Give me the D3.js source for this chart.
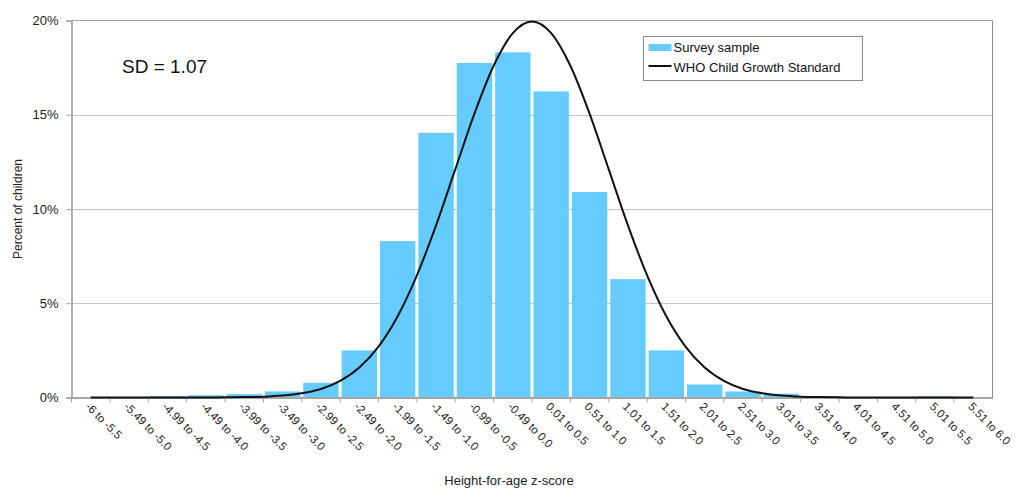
<!DOCTYPE html>
<html>
<head>
<meta charset="utf-8">
<script src="https://cdn.jsdelivr.net/npm/d3@7"></script>
<style>
  body { margin: 0; background: #fff; }
  svg { display: block; font-family: "Liberation Sans", Arial, sans-serif; }
</style>
</head>
<body>
<svg id="chart" width="1016" height="488"></svg>
<script>
const width = 1016;
const height = 488;

// z-score bins (categories)
const categories = [
  "-6 to -5.5", "-5.49 to -5.0", "-4.99 to -4.5", "-4.49 to -4.0", "-3.99 to -3.5",
  "-3.49 to -3.0", "-2.99 to -2.5", "-2.49 to -2.0", "-1.99 to -1.5", "-1.49 to -1.0",
  "-0.99 to -0.5", "-0.49 to 0.0", "0.01 to 0.5", "0.51 to 1.0", "1.01 to 1.5",
  "1.51 to 2.0", "2.01 to 2.5", "2.51 to 3.0", "3.01 to 3.5", "3.51 to 4.0",
  "4.01 to 4.5", "4.51 to 5.0", "5.01 to 5.5", "5.51 to 6.0"
];

// survey sample, percent of children per bin
const surveyPct = [
  0.02, 0, 0.07, 0.12, 0.18, 0.32, 0.78, 2.5, 8.3, 14.04, 17.75, 18.31,
  16.24, 10.9, 6.28, 2.5, 0.69, 0.32, 0.2, 0.05, 0, 0, 0.05, 0
];

// WHO standard curve at quarter z steps
const whoZ = [
  -5.75, -5.5, -5.25, -5, -4.75, -4.5, -4.25, -4, -3.75, -3.5, -3.25, -3,
  -2.75, -2.5, -2.25, -2, -1.75, -1.5, -1.25, -1, -0.75, -0.5, -0.25, 0,
  0.25, 0.5, 0.75, 1, 1.25, 1.5, 1.75, 2, 2.25, 2.5, 2.75, 3,
  3.25, 3.5, 3.75, 4, 4.25, 4.5, 4.75, 5, 5.25, 5.5, 5.75
];
const whoPct = [
  0, 0, 0, 0, 0, 0, 0, 0.01, 0.02, 0.04, 0.1, 0.22,
  0.45, 0.88, 1.59, 2.7, 4.31, 6.48, 9.13, 12.1, 15.06, 17.6, 19.33, 19.95,
  19.33, 17.6, 15.06, 12.1, 9.13, 6.48, 4.31, 2.7, 1.59, 0.88, 0.45, 0.22,
  0.1, 0.04, 0.02, 0.01, 0, 0, 0, 0, 0, 0, 0
];

const yTicks = [0, 5, 10, 15, 20];

const margin = { top: 20.5, right: 23.5, bottom: 90.5, left: 71.5 };
const x0 = margin.left, x1 = width - margin.right;
const yBottom = height - margin.bottom, yTop = margin.top;

const svg = d3.select("#chart");
svg.append("rect").attr("width", width).attr("height", height).attr("fill", "#fff");

const x = d3.scaleBand().domain(categories).range([x0, x1]).padding(0);
const xz = d3.scaleLinear().domain([-6, 6]).range([x0, x1]);
const y = d3.scaleLinear().domain([0, 20]).range([yBottom, yTop]);

// gridlines
svg.append("g")
  .selectAll("line")
  .data(yTicks.filter(d => d > 0 && d < 20))
  .join("line")
  .attr("x1", x0).attr("x2", x1)
  .attr("y1", d => Math.round(y(d)) + 0.5).attr("y2", d => Math.round(y(d)) + 0.5)
  .attr("stroke", "#8a8a8a")
  .attr("stroke-dasharray", "1,1");

// frame (top and right)
svg.append("line").attr("x1", x0).attr("x2", x1).attr("y1", yTop).attr("y2", yTop)
  .attr("stroke", "#a6a6a6");
svg.append("line").attr("x1", x1).attr("x2", x1).attr("y1", yTop).attr("y2", yBottom)
  .attr("stroke", "#8a8a8a");

// bars
svg.append("g")
  .selectAll("rect")
  .data(surveyPct)
  .join("rect")
  .attr("x", (d, i) => x(categories[i]) + 1.5)
  .attr("width", x.bandwidth() - 3)
  .attr("y", d => y(d))
  .attr("height", d => yBottom - y(d))
  .attr("fill", "#66ccff");

// y axis
const yAxis = svg.append("g")
  .attr("transform", `translate(${x0},0)`)
  .call(d3.axisLeft(y).tickValues(yTicks).tickFormat(d => d + "%").tickSize(5).tickPadding(8));
yAxis.select(".domain").attr("stroke", "#b0b0b0").attr("stroke-width", 2);
yAxis.selectAll(".tick line").attr("stroke", "#a6a6a6");
yAxis.selectAll(".tick text").attr("font-size", 13).attr("fill", "#222")
  .attr("font-family", "Liberation Sans, Arial, sans-serif");

// x axis
const xAxis = svg.append("g")
  .attr("transform", `translate(0,${yBottom})`)
  .call(d3.axisBottom(x).tickSize(0).tickFormat(""));
xAxis.select(".domain").attr("stroke", "#a6a6a6").attr("stroke-width", 2);
xAxis.selectAll(".tick").remove();

svg.append("g")
  .selectAll("line")
  .data(categories)
  .join("line")
  .attr("x1", d => x(d)).attr("x2", d => x(d))
  .attr("y1", yBottom).attr("y2", yBottom + 5)
  .attr("stroke", "#a6a6a6");

svg.append("g")
  .selectAll("text")
  .data(categories)
  .join("text")
  .attr("transform", d => `translate(${x(d) + x.bandwidth() / 2 - 3},${yBottom + 7}) rotate(45)`)
  .attr("font-size", 11.5)
  .attr("fill", "#222")
  .attr("dy", "0.35em")
  .text(d => d);

// WHO curve
const line = d3.line()
  .x((d, i) => xz(whoZ[i]))
  .y(d => y(d))
  .curve(d3.curveMonotoneX);
svg.append("path")
  .datum(whoPct)
  .attr("d", line)
  .attr("fill", "none")
  .attr("stroke", "#111")
  .attr("stroke-width", 2);

// axis titles
svg.append("text")
  .attr("transform", `translate(22,${(yTop + yBottom) / 2}) rotate(-90)`)
  .attr("text-anchor", "middle")
  .attr("font-size", 12)
  .attr("fill", "#222")
  .text("Percent of children");

svg.append("text")
  .attr("x", 509)
  .attr("y", 485)
  .attr("text-anchor", "middle")
  .attr("font-size", 13)
  .attr("fill", "#222")
  .text("Height-for-age z-score");

// SD annotation
svg.append("text")
  .attr("x", 122)
  .attr("y", 73)
  .attr("font-size", 19)
  .attr("fill", "#111")
  .text("SD = 1.07");

// legend
const legend = svg.append("g").attr("transform", "translate(643.5,36.5)");
legend.append("rect").attr("width", 219).attr("height", 44)
  .attr("fill", "#fff").attr("stroke", "#8a8a8a");
legend.append("rect").attr("x", 5).attr("y", 7.5).attr("width", 23).attr("height", 7)
  .attr("fill", "#66ccff");
legend.append("text").attr("x", 30).attr("y", 15.5).attr("font-size", 13).attr("fill", "#111")
  .text("Survey sample");
legend.append("line").attr("x1", 5).attr("x2", 28).attr("y1", 29.5).attr("y2", 29.5)
  .attr("stroke", "#111").attr("stroke-width", 2);
legend.append("text").attr("x", 30).attr("y", 35).attr("font-size", 13).attr("fill", "#111")
  .text("WHO Child Growth Standard");
</script>
</body>
</html>
